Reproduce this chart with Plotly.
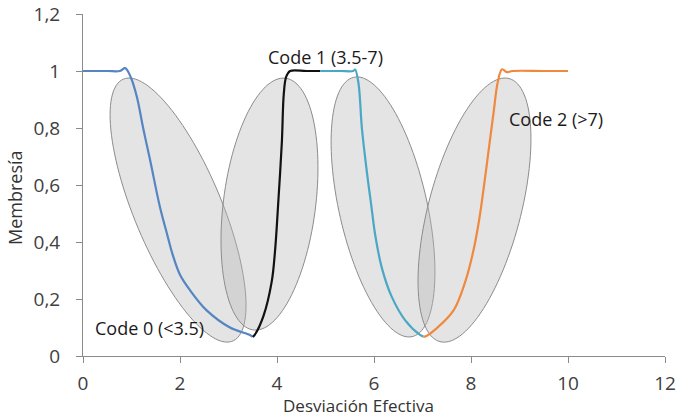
import numpy as np
import plotly.graph_objects as go

# ---- data ----
code0_x = [0, 0.5, 0.76, 0.87, 0.98, 1.11, 1.24, 1.38, 1.59, 1.73, 1.85, 2.0, 2.21, 2.55, 3.03, 3.44, 3.5]
code0_y = [1, 1, 1.0, 1.01, 0.98, 0.91, 0.80, 0.69, 0.52, 0.43, 0.355, 0.285, 0.23, 0.16, 0.10, 0.074, 0.067]

code1a_x = [3.5, 3.54, 3.72, 3.89, 3.96, 4.03, 4.10, 4.14, 4.19, 4.27, 4.6, 4.89]
code1a_y = [0.067, 0.074, 0.14, 0.26, 0.37, 0.55, 0.75, 0.92, 0.98, 1.0, 1.0, 1.0]

code1b_x = [4.89, 5.3, 5.57, 5.61, 5.68, 5.75, 5.85, 5.95, 6.02, 6.16, 6.36, 6.64, 6.95, 7.02]
code1b_y = [1, 1, 1.0, 1.005, 0.957, 0.80, 0.65, 0.52, 0.43, 0.31, 0.21, 0.126, 0.074, 0.068]

code2_x = [7.02, 7.05, 7.29, 7.64, 7.88, 8.05, 8.17, 8.27, 8.37, 8.47, 8.55, 8.64, 8.74, 8.85, 9.5, 10]
code2_y = [0.068, 0.068, 0.097, 0.16, 0.26, 0.37, 0.48, 0.60, 0.73, 0.86, 0.96, 1.006, 0.996, 1.0, 1.0, 1.0]

x_tickvals = [0, 2, 4, 6, 8, 10, 12]
x_ticktext = ["0", "2", "4", "6", "8", "10", "12"]
y_tickvals = [0, 0.2, 0.4, 0.6, 0.8, 1.0, 1.2]
y_ticktext = ["0", "0,2", "0,4", "0,6", "0,8", "1", "1,2"]

labels = ["Code 0 (<3.5)", "Code 1 (3.5-7)", "Code 2 (>7)"]
label_x = [1.38, 4.99, 9.75]
label_y = [0.098, 1.049, 0.832]

# decorative ellipses: centre (data), semi-axes (px), tilt (deg, + = top leans right)
ell_cx = [1.96, 3.845, 6.186, 8.072]
ell_cy = [0.512, 0.533, 0.523, 0.512]
ell_a = [141.9, 126.9, 132.9, 136.0]
ell_b = [43.8, 46.1, 44.0, 46.2]
ell_tilt = [-22.65, 7.3, -12.7, 14.7]

W, H = 677, 418
L, R, T, B = 83, 12, 14, 62
px_x = (W - L - R) / 12.0
px_y = (H - T - B) / 1.2

FONT = "Open Sans"

fig = go.Figure()

def ellipse_path(cx, cy, a, b, tilt):
    th = np.radians(tilt)
    t = np.linspace(0, 2 * np.pi, 120)
    ux, uy = np.sin(th), -np.cos(th)
    vx, vy = np.cos(th), np.sin(th)
    sx = a * np.cos(t) * ux + b * np.sin(t) * vx
    sy = a * np.cos(t) * uy + b * np.sin(t) * vy
    xs = cx + sx / px_x
    ys = cy - sy / px_y
    pts = " L ".join(f"{x:.4f},{y:.4f}" for x, y in zip(xs, ys))
    return "M " + pts + " Z"

shapes = []
for cx, cy, a, b, tl in zip(ell_cx, ell_cy, ell_a, ell_b, ell_tilt):
    shapes.append(dict(type="path", xref="x", yref="y", path=ellipse_path(cx, cy, a, b, tl),
                       fillcolor="rgba(185,185,185,0.38)",
                       line=dict(color="#8c8c8c", width=1), layer="below"))

series = [
    (code0_x, code0_y, "#5585c2"),
    (code1a_x, code1a_y, "#111111"),
    (code1b_x, code1b_y, "#4aa8c4"),
    (code2_x, code2_y, "#f0883e"),
]
for xs, ys, c in series:
    fig.add_trace(go.Scatter(x=xs, y=ys, mode="lines",
                             line=dict(color=c, width=2.2, shape="spline", smoothing=1.0),
                             showlegend=False, hoverinfo="skip"))

annotations = []
for t, x, y in zip(labels, label_x, label_y):
    annotations.append(dict(text=t, x=x, y=y, xref="x", yref="y", showarrow=False,
                            font=dict(family=FONT, size=18, color="#1a1a1a"),
                            xanchor="center", yanchor="middle"))
annotations.append(dict(text="Membresía", x=(15 - L) / (W - L - R), y=(H - B - 198) / (H - T - B),
                        xref="paper", yref="paper", showarrow=False, textangle=-90,
                        font=dict(family=FONT, size=18, color="#333333"),
                        xanchor="center", yanchor="middle"))
annotations.append(dict(text="Desviación Efectiva", x=(358 - L) / (W - L - R), y=(H - B - 405) / (H - T - B),
                        xref="paper", yref="paper", showarrow=False,
                        font=dict(family=FONT, size=17, color="#333333"),
                        xanchor="center", yanchor="middle"))

fig.update_layout(
    width=W, height=H,
    margin=dict(l=L, r=R, t=T, b=B, pad=0, autoexpand=False),
    paper_bgcolor="white", plot_bgcolor="white",
    shapes=shapes, annotations=annotations,
    xaxis=dict(range=[0, 12], tickvals=x_tickvals, ticktext=x_ticktext, automargin=False,
               showgrid=False, zeroline=False, showline=True, linecolor="#8a8a8a", linewidth=1,
               ticks="outside", ticklen=6, tickcolor="#8a8a8a",
               tickfont=dict(family=FONT, size=19, color="#404040"), ticklabelstandoff=4),
    yaxis=dict(range=[0, 1.2], tickvals=y_tickvals, ticktext=y_ticktext, automargin=False,
               showgrid=False, zeroline=False, showline=True, linecolor="#8a8a8a", linewidth=1,
               ticks="outside", ticklen=6, tickcolor="#8a8a8a",
               tickfont=dict(family=FONT, size=19, color="#404040"), ticklabelstandoff=12),
)

fig.write_html("out.html")
